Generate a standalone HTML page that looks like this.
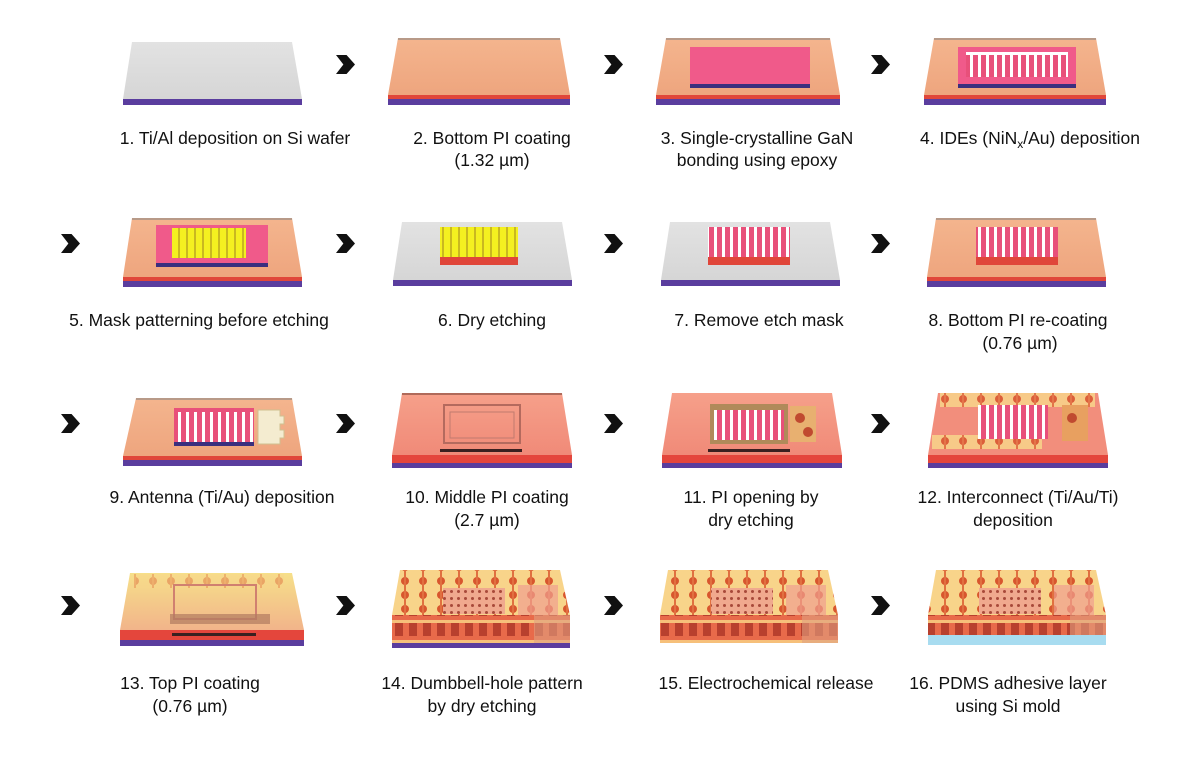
<!DOCTYPE html>
<html><head><meta charset="utf-8"><style>
html,body{margin:0;padding:0;background:#fff;}
svg{display:block;}
text{font-family:"Liberation Sans",sans-serif;font-size:17.5px;fill:#111;text-anchor:middle;}
</style></head><body>
<svg width="1200" height="759" viewBox="0 0 1200 759" xmlns="http://www.w3.org/2000/svg">
<defs>
<linearGradient id="pi" x1="0" y1="0" x2="0" y2="1"><stop offset="0" stop-color="#f4b58e"/><stop offset="1" stop-color="#eea57e"/></linearGradient>
<linearGradient id="pi2" x1="0" y1="0" x2="0" y2="1"><stop offset="0" stop-color="#f6a08a"/><stop offset="1" stop-color="#f08a78"/></linearGradient>
<linearGradient id="si" x1="0" y1="0" x2="0" y2="1"><stop offset="0" stop-color="#e2e2e2"/><stop offset="1" stop-color="#d6d6d6"/></linearGradient>
<linearGradient id="top13" x1="0" y1="0" x2="0" y2="1"><stop offset="0" stop-color="#f6e08a"/><stop offset="1" stop-color="#f2b48a"/></linearGradient>
<pattern id="ide" width="8" height="40" patternUnits="userSpaceOnUse"><rect width="8" height="40" fill="#e8507a"/><rect x="2" y="0" width="3" height="40" fill="#fff"/></pattern>
<pattern id="idey" width="8" height="40" patternUnits="userSpaceOnUse"><rect width="8" height="40" fill="#f4f020"/><rect x="2" y="0" width="2" height="40" fill="#c9b820"/></pattern>
<pattern id="dots" width="7" height="7" patternUnits="userSpaceOnUse"><rect width="7" height="7" fill="#f0a98e"/><circle cx="3.5" cy="3.5" r="1.5" fill="#a84a3a"/></pattern>
<pattern id="holes" width="18" height="14" patternUnits="userSpaceOnUse"><rect width="18" height="14" fill="#f8d48a"/><circle cx="9" cy="7" r="4" fill="#d8562e"/><rect x="8" y="0" width="2" height="14" fill="#e07040"/></pattern>
<pattern id="front" width="14" height="20" patternUnits="userSpaceOnUse"><rect width="14" height="20" fill="#e86a4a"/><rect x="3" y="2" width="8" height="14" fill="#b8402e"/><rect x="0" y="0" width="14" height="3" fill="#f6c07a"/></pattern>
<symbol id="chev" viewBox="0 0 18 18"><path d="M0 0 L10 0 L18 9 L10 18 L0 18 L7 9 Z" fill="#111"/></symbol>
</defs>

<use href="#chev" x="336" y="55" width="19" height="19"/>
<use href="#chev" x="604" y="55" width="19" height="19"/>
<use href="#chev" x="871" y="55" width="19" height="19"/>
<use href="#chev" x="61" y="234" width="19" height="19"/>
<use href="#chev" x="336" y="234" width="19" height="19"/>
<use href="#chev" x="604" y="234" width="19" height="19"/>
<use href="#chev" x="871" y="234" width="19" height="19"/>
<use href="#chev" x="61" y="414" width="19" height="19"/>
<use href="#chev" x="336" y="414" width="19" height="19"/>
<use href="#chev" x="604" y="414" width="19" height="19"/>
<use href="#chev" x="871" y="414" width="19" height="19"/>
<use href="#chev" x="61" y="596" width="19" height="19"/>
<use href="#chev" x="336" y="596" width="19" height="19"/>
<use href="#chev" x="604" y="596" width="19" height="19"/>
<use href="#chev" x="871" y="596" width="19" height="19"/>

<polygon points="132,42 292,42 302,99 123,99" fill="url(#si)"/>
<rect x="123" y="99" width="179" height="6" fill="#5a3d9e"/>
<polygon points="398,38 560,38 570,95 388,95" fill="url(#pi)"/>
<rect x="398" y="38" width="162" height="2" fill="#b89a88"/>
<rect x="388" y="95" width="182" height="4" fill="#e0463a"/>
<rect x="388" y="99" width="182" height="6" fill="#5a3d9e"/>
<polygon points="666,38 830,38 840,95 656,95" fill="url(#pi)"/>
<rect x="666" y="38" width="164" height="2" fill="#b89a88"/>
<rect x="656" y="95" width="184" height="4" fill="#e0463a"/>
<rect x="656" y="99" width="184" height="6" fill="#5a3d9e"/>
<rect x="690" y="47" width="120" height="37" fill="#f05a8a"/>
<rect x="690" y="84" width="120" height="4" fill="#3a2f7e"/>
<polygon points="934,38 1096,38 1106,95 924,95" fill="url(#pi)"/>
<rect x="934" y="38" width="162" height="2" fill="#b89a88"/>
<rect x="924" y="95" width="182" height="4" fill="#e0463a"/>
<rect x="924" y="99" width="182" height="6" fill="#5a3d9e"/>
<rect x="958" y="47" width="118" height="37" fill="#f05a8a"/>
<rect x="958" y="84" width="118" height="4" fill="#3a2f7e"/>
<rect x="966" y="53" width="102" height="24" fill="url(#ide)"/>
<rect x="966" y="52" width="102" height="3" fill="#fff"/>

<polygon points="132,218 292,218 302,277 123,277" fill="url(#pi)"/>
<rect x="132" y="218" width="160" height="2" fill="#b89a88"/>
<rect x="123" y="277" width="179" height="4" fill="#e0463a"/>
<rect x="123" y="281" width="179" height="6" fill="#5a3d9e"/>
<rect x="156" y="225" width="112" height="38" fill="#f05a8a"/>
<rect x="156" y="263" width="112" height="4" fill="#3a2f7e"/>
<rect x="172" y="228" width="74" height="30" fill="url(#idey)"/>
<polygon points="402,222 562,222 572,280 393,280" fill="url(#si)"/>
<rect x="393" y="280" width="179" height="6" fill="#5a3d9e"/>
<rect x="440" y="227" width="78" height="30" fill="url(#idey)"/>
<rect x="440" y="257" width="78" height="8" fill="#e0463a"/>
<polygon points="670,222 830,222 840,280 661,280" fill="url(#si)"/>
<rect x="661" y="280" width="179" height="6" fill="#5a3d9e"/>
<rect x="708" y="227" width="82" height="30" fill="url(#ide)"/>
<rect x="708" y="257" width="82" height="8" fill="#e0463a"/>
<polygon points="936,218 1096,218 1106,277 927,277" fill="url(#pi)"/>
<rect x="936" y="218" width="160" height="2" fill="#b89a88"/>
<rect x="927" y="277" width="179" height="4" fill="#e0463a"/>
<rect x="927" y="281" width="179" height="6" fill="#5a3d9e"/>
<rect x="976" y="227" width="82" height="30" fill="url(#ide)"/>
<rect x="976" y="257" width="82" height="8" fill="#e0463a"/>

<polygon points="136,398 292,398 302,456 123,456" fill="url(#pi)"/>
<rect x="136" y="398" width="156" height="2" fill="#b89a88"/>
<rect x="123" y="456" width="179" height="4" fill="#e0463a"/>
<rect x="123" y="460" width="179" height="6" fill="#5a3d9e"/>
<rect x="174" y="408" width="80" height="34" fill="url(#ide)"/>
<rect x="174" y="408" width="80" height="4" fill="#e8507a"/>
<rect x="174" y="442" width="80" height="4" fill="#3a2f7e"/>
<path d="M258 410 h22 v6 h4 v8 h-4 v6 h4 v8 h-4 v6 h-22 z" fill="#f4ecd0" stroke="#cfc090" stroke-width="1"/>
<polygon points="402,393 562,393 572,455 392,455" fill="url(#pi2)"/>
<rect x="402" y="393" width="160" height="2" fill="#b06a5a"/>
<rect x="392" y="455" width="180" height="8" fill="#e4463c"/>
<rect x="392" y="463" width="180" height="5" fill="#5a3d9e"/>
<rect x="444" y="405" width="76" height="38" fill="none" stroke="#b46a5e" stroke-width="2"/>
<rect x="450" y="412" width="64" height="26" fill="none" stroke="#c07a6e" stroke-width="1"/>
<rect x="440" y="449" width="82" height="3" fill="#3a2020"/>
<polygon points="672,393 832,393 842,455 662,455" fill="url(#pi2)"/>
<rect x="662" y="455" width="180" height="8" fill="#e4463c"/>
<rect x="662" y="463" width="180" height="5" fill="#5a3d9e"/>
<rect x="710" y="404" width="78" height="40" fill="#b08a5a"/>
<rect x="714" y="410" width="70" height="30" fill="url(#ide)"/>
<rect x="790" y="406" width="26" height="36" fill="#e8b070"/>
<circle cx="800" cy="418" r="5" fill="#c04a30"/><circle cx="808" cy="432" r="5" fill="#c04a30"/>
<rect x="708" y="449" width="82" height="3" fill="#3a2020"/>
<polygon points="938,393 1098,393 1108,455 928,455" fill="#f28e7c"/>
<rect x="928" y="455" width="180" height="8" fill="#e4463c"/>
<rect x="928" y="463" width="180" height="5" fill="#5a3d9e"/>
<rect x="940" y="393" width="155" height="14" fill="url(#holes)" opacity="0.85"/>
<rect x="932" y="435" width="110" height="14" fill="url(#holes)" opacity="0.85"/>
<rect x="978" y="405" width="70" height="34" fill="url(#ide)"/>
<rect x="1062" y="405" width="26" height="36" fill="#e8a060"/>
<circle cx="1072" cy="418" r="5" fill="#c04a30"/>

<polygon points="130,573 292,573 304,630 120,630" fill="url(#top13)"/>
<rect x="120" y="630" width="184" height="10" fill="#e4463c"/>
<rect x="120" y="640" width="184" height="6" fill="#5a3d9e"/>
<rect x="134" y="574" width="150" height="14" fill="url(#holes)" opacity="0.4"/>
<rect x="174" y="585" width="82" height="34" fill="none" stroke="#d08070" stroke-width="2"/>
<rect x="170" y="614" width="100" height="10" fill="#b07a60" opacity="0.7"/>
<rect x="172" y="633" width="84" height="3" fill="#3a2020"/>
<g>
<polygon points="400,570 560,570 570,615 392,615" fill="url(#holes)"/>
<rect x="392" y="615" width="178" height="28" fill="url(#front)"/>
<rect x="534" y="615" width="36" height="28" fill="#e0a080" opacity="0.6"/>
<rect x="443" y="588" width="62" height="26" fill="url(#dots)"/>
<rect x="518" y="585" width="40" height="30" fill="#f0a090" opacity="0.7"/>
<rect x="392" y="643" width="178" height="5" fill="#5a3d9e"/>
</g>
<g>
<polygon points="668,570 828,570 838,615 660,615" fill="url(#holes)"/>
<rect x="660" y="615" width="178" height="28" fill="url(#front)"/>
<rect x="802" y="615" width="36" height="28" fill="#e0a080" opacity="0.6"/>
<rect x="711" y="588" width="62" height="26" fill="url(#dots)"/>
<rect x="786" y="585" width="40" height="30" fill="#f0a090" opacity="0.7"/>
</g>
<g>
<polygon points="936,570 1096,570 1106,615 928,615" fill="url(#holes)"/>
<rect x="928" y="615" width="178" height="22" fill="url(#front)"/>
<rect x="1070" y="615" width="36" height="22" fill="#e0a080" opacity="0.6"/>
<rect x="979" y="588" width="62" height="26" fill="url(#dots)"/>
<rect x="1054" y="585" width="40" height="30" fill="#f0a090" opacity="0.7"/>
<rect x="928" y="635" width="178" height="10" fill="#a8dcf0"/>
</g>

<text x="235" y="144">1. Ti/Al deposition on Si wafer</text>
<text x="492" y="144">2. Bottom PI coating</text>
<text x="492" y="166">(1.32 µm)</text>
<text x="757" y="144">3. Single-crystalline GaN</text>
<text x="757" y="166">bonding using epoxy</text>
<text x="1030" y="144">4. IDEs (NiN<tspan font-size="12" dy="4">x</tspan><tspan dy="-4">/Au) deposition</tspan></text>

<text x="199" y="326">5.  Mask patterning before etching</text>
<text x="492" y="326">6. Dry etching</text>
<text x="759" y="326">7. Remove etch mask</text>
<text x="1018" y="326">8. Bottom PI re-coating</text>
<text x="1020" y="349">(0.76 µm)</text>

<text x="222" y="503">9. Antenna (Ti/Au) deposition</text>
<text x="487" y="503">10. Middle PI coating</text>
<text x="487" y="526">(2.7 µm)</text>
<text x="751" y="503">11. PI opening by</text>
<text x="751" y="526">dry etching</text>
<text x="1018" y="503">12. Interconnect (Ti/Au/Ti)</text>
<text x="1013" y="526">deposition</text>

<text x="190" y="689">13. Top PI coating</text>
<text x="190" y="712">(0.76 µm)</text>
<text x="482" y="689">14. Dumbbell-hole pattern</text>
<text x="482" y="712">by dry etching</text>
<text x="766" y="689">15. Electrochemical release</text>
<text x="1008" y="689">16. PDMS adhesive layer</text>
<text x="1008" y="712">using Si mold</text>
</svg>
</body></html>
